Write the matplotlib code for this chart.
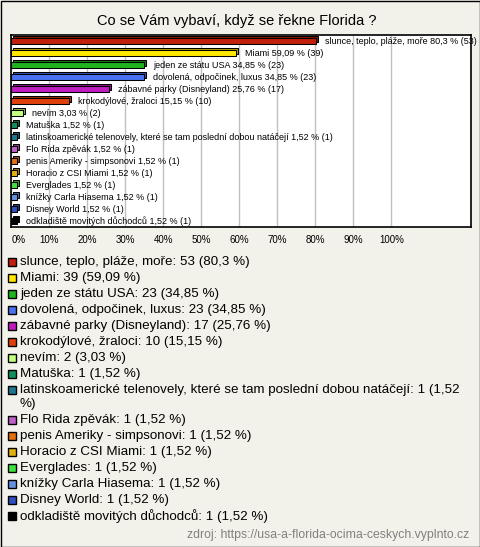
import textwrap

import matplotlib
matplotlib.use("Agg")
import matplotlib.pyplot as plt
from matplotlib.colors import to_rgb
from matplotlib.patches import Rectangle
from matplotlib.transforms import ScaledTranslation

plt.rcParams["font.family"] = ["Liberation Sans", "DejaVu Sans"]

TITLE = "Co se Vám vybaví, když se řekne Florida ?"
SOURCE = "zdroj: https://usa-a-florida-ocima-ceskych.vyplnto.cz"

categories = [
    "slunce, teplo, pláže, moře",
    "Miami",
    "jeden ze státu USA",
    "dovolená, odpočinek, luxus",
    "zábavné parky (Disneyland)",
    "krokodýlové, žraloci",
    "nevím",
    "Matuška",
    "latinskoamerické telenovely, které se tam poslední dobou natáčejí",
    "Flo Rida zpěvák",
    "penis Ameriky - simpsonovi",
    "Horacio z CSI Miami",
    "Everglades",
    "knížky Carla Hiasema",
    "Disney World",
    "odkladiště movitých důchodců",
]
counts = [53, 39, 23, 23, 17, 10, 2, 1, 1, 1, 1, 1, 1, 1, 1, 1]
percents = [80.3, 59.09, 34.85, 34.85, 25.76, 15.15, 3.03,
            1.52, 1.52, 1.52, 1.52, 1.52, 1.52, 1.52, 1.52, 1.52]
colors = ["#c0200c", "#ffe800", "#1fb41f", "#4a72f0", "#c01cc0", "#e0400c",
          "#c4ff80", "#10905a", "#1f7890", "#c060c8", "#e07010", "#e0b010",
          "#40e040", "#6690e0", "#3050c0", "#000000"]
xticks = list(range(0, 101, 10))

BG = "#f3f2ea"
W, H = 480, 547


def pct(v):
    return f"{v:g}".replace(".", ",")


fig = plt.figure(figsize=(W / 100, H / 100), dpi=100, facecolor=BG)

# full-figure pixel canvas for frame, title, legend and source
bg = fig.add_axes([0, 0, 1, 1])
bg.set_xlim(0, W); bg.set_ylim(H, 0); bg.axis("off")
bg.add_patch(Rectangle((0.5, 0.5), W - 1, H - 1, fill=False, ec="black", lw=1))
bg.text(237, 21, TITLE, ha="center", va="center", fontsize=10.5)

# bar chart
top, bot, left, right = 35, 227, 11.3, 471
ax = fig.add_axes([left / W, 1 - bot / H, (right - left) / W, (bot - top) / H])
ax.set_facecolor("white")
ax.set_xlim(0, (right - left) / 3.8)
ax.set_ylim(len(categories) - 0.5, -0.5)
ax.set_xticks(xticks)
ax.set_xticklabels([f"{t}%" for t in xticks], fontsize=7)
ax.get_xticklabels()[0].set_ha("left")  # 0% sits inside the frame
ax.set_yticks([])
ax.tick_params(axis="x", length=0, pad=6)
ax.grid(axis="x", color="#c0c0c0", lw=1)
ax.set_axisbelow(True)
for s in ax.spines.values():
    s.set_linewidth(1.2)

ys = range(len(categories))
shift = ax.transData + ScaledTranslation(2 / 100, 2 / 100, fig.dpi_scale_trans)
dark = [tuple(c * 0.7 for c in to_rgb(col)) for col in colors]
ax.barh(ys, percents, height=0.45, color=dark, edgecolor="black", lw=0.75,
        transform=shift, zorder=2)
ax.barh(ys, percents, height=0.45, color=colors, edgecolor="black", lw=0.75,
        zorder=3)
for y, (cat, p, n) in enumerate(zip(categories, percents, counts)):
    ax.annotate(f"{cat} {pct(p)} % ({n})", (p, y), xytext=(9, 0),
                textcoords="offset pixels", va="center", fontsize=6.5,
                clip_on=False, zorder=4)

# legend below the chart
y = 262
for cat, p, n, col in zip(categories, percents, counts, colors):
    lines = textwrap.wrap(f"{cat}: {n} ({pct(p)} %)", 74)
    bg.add_patch(Rectangle((7.5, y - 4), 8, 8, fc=col, ec="black", lw=1))
    for k, line in enumerate(lines):
        bg.text(20, y + k * 14.5, line, va="center", fontsize=9.6)
    y += 15.95 + 14.8 * (len(lines) - 1)

bg.text(469, 535, SOURCE, ha="right", va="center", fontsize=8.8, color="#808080")

fig.savefig("out.png", dpi=100, facecolor=BG)
